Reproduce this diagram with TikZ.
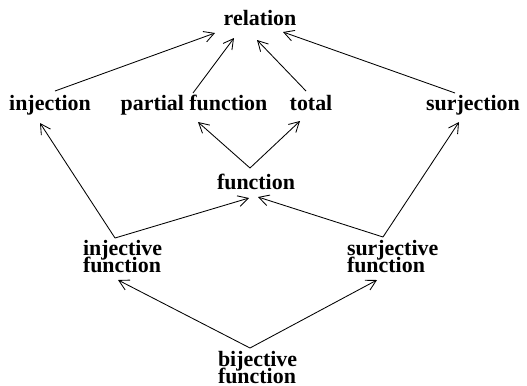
\documentclass[tikz,border=0pt]{standalone}
\usepackage{fontspec}
\setmainfont{Liberation Serif}
\usetikzlibrary{arrows.meta}
% bold label font with tight, fixed line spacing
\newcommand\conceptfont{\fontsize{22}{17}\selectfont\bfseries\lineskiplimit=-50pt\relax}
\begin{document}
\begin{tikzpicture}[x=1bp,y=-1bp,
  lbl/.style={inner sep=0pt,outer sep=0pt,font=\conceptfont},
  lbl2/.style={lbl,align=left,anchor=base west},
  arr/.style={line width=0.85bp,-{Straight Barb[length=10bp,width=11bp,line width=0.85bp]}}]
\useasboundingbox (0,0) rectangle (527,385);
% concepts (two-line labels are placed by the baseline of their last line)
\node[lbl,anchor=base] (rel) at (260,25) {relation};
\node[lbl,anchor=base] (inj) at (50,110) {injection};
\node[lbl,anchor=base] (par) at (194,110) {partial function};
\node[lbl,anchor=base] (tot) at (311,110) {total};
\node[lbl,anchor=base] (sur) at (473,110) {surjection};
\node[lbl,anchor=base] (fun) at (256,189) {function};
\node[lbl2] (injf) at (83,272) {injective\\function};
\node[lbl2] (surf) at (347,272) {surjective\\function};
\node[lbl2] (bij) at (218,383) {bijective\\function};
% generalisation arrows
\draw[arr] ([shift={(5,-19)}]inj.base) -- ([shift={(-45,8)}]rel.base);
\draw[arr] ([shift={(-1,-17)}]par.base) -- ([shift={(-26,13)}]rel.base);
\draw[arr] ([shift={(-5,-19)}]tot.base) -- ([shift={(-3,15)}]rel.base);
\draw[arr] ([shift={(-18,-17)}]sur.base) -- ([shift={(23,7)}]rel.base);
\draw[arr] ([shift={(-6,-21)}]fun.base) -- ([shift={(4,12)}]par.base);
\draw[arr] ([shift={(-6,-21)}]fun.base) -- ([shift={(-11,11)}]tot.base);
\draw[arr] ([shift={(32,-34)}]injf.base west) -- ([shift={(-10,13)}]inj.base);
\draw[arr] ([shift={(32,-34)}]injf.base west) -- ([shift={(-7,9)}]fun.base);
\draw[arr] ([shift={(36,-35)}]surf.base west) -- ([shift={(2,8)}]fun.base);
\draw[arr] ([shift={(36,-35)}]surf.base west) -- ([shift={(-14,12)}]sur.base);
\draw[arr] ([shift={(32,-35)}]bij.base west) -- ([shift={(35,8)}]injf.base west);
\draw[arr] ([shift={(32,-35)}]bij.base west) -- ([shift={(30,8)}]surf.base west);
\end{tikzpicture}
\end{document}
